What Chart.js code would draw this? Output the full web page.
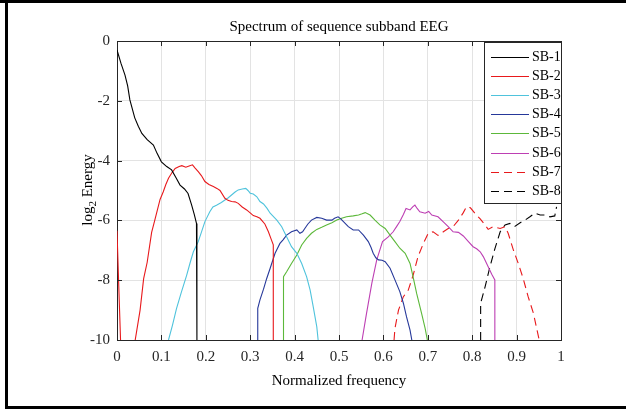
<!DOCTYPE html>
<html>
<head>
<meta charset="utf-8">
<script src="https://cdn.jsdelivr.net/npm/chart.js@4"></script>
<style>
  body{margin:0;background:#fff;}
  canvas{display:block;}
</style>
</head>
<body>
<canvas id="spec" width="626" height="411"></canvas>
<script>
// DATA  (normalized frequency, log2 energy)
const names = ["SB-1","SB-2","SB-3","SB-4","SB-5","SB-6","SB-7","SB-8"];
const xTicks = [0,0.1,0.2,0.3,0.4,0.5,0.6,0.7,0.8,0.9,1];
const yTicks = [0,-2,-4,-6,-8,-10];

const sb1 = [[0,-0.3],[0.009,-0.75],[0.018,-1.14],[0.024,-1.5],[0.029,-1.97],[0.04,-2.57],[0.048,-2.85],[0.056,-3.09],
  [0.068,-3.3],[0.082,-3.48],[0.09,-3.75],[0.1,-4.04],[0.112,-4.2],[0.123,-4.31],[0.132,-4.55],[0.142,-4.82],
  [0.152,-4.95],[0.16,-5.1],[0.168,-5.48],[0.174,-5.8],[0.179,-6.1],[0.18,-6.15],[0.18,-10]];
const sb2 = [[0,-6.35],[0.004,-8.2],[0.008,-10],[0.02,null],[0.041,-10],[0.052,-9.0],[0.06,-7.95],[0.068,-7.4],
  [0.078,-6.4],[0.085,-6.0],[0.097,-5.3],[0.104,-5.05],[0.11,-4.8],[0.116,-4.59],[0.124,-4.4],[0.131,-4.26],
  [0.14,-4.2],[0.146,-4.17],[0.155,-4.22],[0.164,-4.17],[0.17,-4.14],[0.176,-4.25],[0.183,-4.37],[0.19,-4.5],
  [0.198,-4.7],[0.207,-4.8],[0.217,-4.87],[0.225,-4.93],[0.232,-5.0],[0.243,-5.26],[0.25,-5.33],[0.258,-5.37],
  [0.266,-5.38],[0.273,-5.43],[0.282,-5.55],[0.292,-5.65],[0.3,-5.75],[0.307,-5.84],[0.315,-5.88],[0.322,-5.93],
  [0.333,-6.12],[0.341,-6.38],[0.348,-6.66],[0.352,-6.82],[0.352,-10]];
const sb3 = [[0.116,-10],[0.125,-9.5],[0.134,-8.95],[0.145,-8.4],[0.157,-7.83],[0.165,-7.4],[0.172,-7.05],[0.183,-6.71],
  [0.19,-6.4],[0.198,-6.04],[0.209,-5.71],[0.216,-5.55],[0.224,-5.49],[0.235,-5.4],[0.243,-5.32],[0.25,-5.25],
  [0.258,-5.15],[0.266,-5.05],[0.273,-4.98],[0.282,-4.95],[0.29,-4.93],[0.295,-5.0],[0.3,-5.09],[0.307,-5.12],
  [0.315,-5.21],[0.322,-5.37],[0.33,-5.45],[0.338,-5.6],[0.345,-5.76],[0.36,-5.99],[0.371,-6.21],[0.382,-6.55],
  [0.393,-6.88],[0.405,-7.1],[0.416,-7.44],[0.427,-7.88],[0.435,-8.33],[0.442,-8.89],[0.45,-9.56],[0.453,-10]];
const sb4 = [[0.317,-10],[0.317,-8.94],[0.322,-8.66],[0.33,-8.3],[0.337,-7.95],[0.345,-7.6],[0.356,-7.1],[0.367,-6.77],
  [0.374,-6.65],[0.382,-6.49],[0.393,-6.38],[0.405,-6.32],[0.412,-6.43],[0.418,-6.38],[0.423,-6.27],[0.43,-6.12],
  [0.438,-5.99],[0.45,-5.9],[0.461,-5.93],[0.472,-5.99],[0.484,-5.99],[0.49,-5.93],[0.498,-5.88],[0.504,-5.95],
  [0.51,-6.04],[0.521,-6.21],[0.532,-6.32],[0.544,-6.32],[0.555,-6.49],[0.566,-6.71],[0.572,-6.9],[0.577,-7.1],
  [0.583,-7.25],[0.589,-7.32],[0.597,-7.33],[0.604,-7.38],[0.615,-7.6],[0.626,-7.99],[0.637,-8.38],[0.645,-8.77],
  [0.652,-9.22],[0.66,-9.67],[0.664,-10]];
const sb5 = [[0.375,-10],[0.375,-7.88],[0.382,-7.72],[0.393,-7.44],[0.405,-7.16],[0.416,-6.82],[0.427,-6.6],[0.438,-6.43],
  [0.45,-6.3],[0.461,-6.23],[0.472,-6.15],[0.484,-6.08],[0.495,-5.99],[0.506,-5.93],[0.517,-5.88],[0.532,-5.85],
  [0.544,-5.82],[0.552,-5.78],[0.559,-5.74],[0.57,-5.82],[0.581,-5.99],[0.592,-6.15],[0.604,-6.27],[0.615,-6.49],
  [0.626,-6.71],[0.637,-6.93],[0.649,-7.1],[0.66,-7.44],[0.667,-7.9],[0.675,-8.45],[0.686,-9.11],[0.694,-9.61],[0.699,-10]];
const sb6 = [[0.552,-10],[0.562,-9.11],[0.574,-8.1],[0.585,-7.32],[0.598,-6.71],[0.611,-6.55],[0.622,-6.38],[0.63,-6.2],
  [0.637,-6.04],[0.645,-5.8],[0.651,-5.6],[0.66,-5.65],[0.666,-5.55],[0.671,-5.49],[0.676,-5.6],[0.682,-5.71],
  [0.694,-5.76],[0.702,-5.7],[0.709,-5.82],[0.723,-5.88],[0.735,-6.05],[0.746,-6.21],[0.757,-6.38],[0.769,-6.4],
  [0.78,-6.52],[0.791,-6.7],[0.802,-6.88],[0.81,-6.95],[0.818,-7.05],[0.825,-7.21],[0.836,-7.55],[0.844,-7.8],
  [0.851,-7.99],[0.851,-10]];
const sb7 = [[0.624,-10],[0.626,-9.61],[0.634,-9.0],[0.645,-8.55],[0.656,-8.33],[0.667,-7.83],[0.678,-7.21],[0.69,-6.77],
  [0.701,-6.43],[0.712,-6.38],[0.723,-6.5],[0.735,-6.38],[0.746,-6.27],[0.757,-6.21],[0.769,-5.99],[0.78,-5.74],
  [0.787,-5.54],[0.796,-5.58],[0.806,-5.76],[0.818,-5.95],[0.829,-6.15],[0.836,-6.3],[0.847,-6.21],[0.863,-6.27],
  [0.874,-6.21],[0.881,-6.43],[0.893,-7.0],[0.904,-7.45],[0.915,-7.95],[0.926,-8.55],[0.938,-9.11],[0.946,-9.67],[0.951,-10]];
const sb8 = [[0.819,-10],[0.819,-8.77],[0.829,-8.22],[0.84,-7.55],[0.851,-6.95],[0.863,-6.38],[0.874,-6.15],[0.885,-6.1],
  [0.896,-6.2],[0.908,-6.08],[0.919,-5.99],[0.93,-5.88],[0.941,-5.76],[0.953,-5.82],[0.964,-5.82],[0.975,-5.88],
  [0.986,-5.85],[0.99,-5.55]];

const series = [sb1,sb2,sb3,sb4,sb5,sb6,sb7,sb8];
const colors = ["#000000","#e8191c","#4fc3dc","#26389a","#5cb83a","#bd3fb3","#e8191c","#000000"];
const dashes = [[],[],[],[],[],[],[8,5],[8,5]];

const SERIF = "'Liberation Serif','Times New Roman',serif";

// extra drawing: box ticks, legend, titles, frame
const decor = {
  id:"decor",
  afterDraw(chart){
    const c = chart.ctx, a = chart.chartArea;
    const xs = chart.scales.x, ys = chart.scales.y;
    c.save();
    c.strokeStyle = "#262626";
    c.lineWidth = 1;
    c.beginPath();
    c.moveTo(a.left, a.top+0.5); c.lineTo(a.right+0.5, a.top+0.5);
    c.moveTo(a.right+0.5, a.top); c.lineTo(a.right+0.5, a.bottom);
    xTicks.forEach(t=>{
      let px = Math.round(xs.getPixelForValue(t))+0.5;
      c.moveTo(px, a.bottom); c.lineTo(px, a.bottom-5);
      c.moveTo(px, a.top); c.lineTo(px, a.top+5);
    });
    yTicks.forEach(t=>{
      let py = Math.round(ys.getPixelForValue(t))+0.5;
      c.moveTo(a.left, py); c.lineTo(a.left+5, py);
      c.moveTo(a.right, py); c.lineTo(a.right-5, py);
    });
    c.stroke();

    // legend
    const lx = 484, ly = 42, lw = 77, lh = 161;
    c.fillStyle = "#fff";
    c.fillRect(lx, ly, lw, lh);
    c.strokeStyle = "#262626";
    c.strokeRect(lx+0.5, ly+0.5, lw, lh);
    c.font = "14px " + SERIF;
    c.textBaseline = "middle";
    c.textAlign = "left";
    names.forEach((n,i)=>{
      let y = Math.round(57 + i*19.1)+0.5;
      c.strokeStyle = colors[i];
      c.setLineDash(dashes[i]);
      c.beginPath(); c.moveTo(491,y); c.lineTo(529,y); c.stroke();
      c.setLineDash([]);
      c.fillStyle = "#000";
      c.fillText(n, 532, y);
    });

    // title
    c.fillStyle = "#000";
    c.textAlign = "center";
    c.font = "15px " + SERIF;
    c.fillText("Spectrum of sequence subband EEG", 339, 27);

    // x title
    c.fillText("Normalized frequency", 339, 381);

    // y title with subscript
    c.save();
    c.translate(88, 190);
    c.rotate(-Math.PI/2);
    c.font = "15px " + SERIF;
    let w1 = c.measureText("log").width;
    c.font = "11px " + SERIF;
    let w2 = c.measureText("2").width;
    c.font = "15px " + SERIF;
    let w3 = c.measureText(" Energy").width;
    let x0 = -(w1+w2+w3)/2;
    c.textAlign = "left";
    c.fillText("log", x0, 0);
    c.font = "11px " + SERIF;
    c.fillText("2", x0+w1, 5);
    c.font = "15px " + SERIF;
    c.fillText(" Energy", x0+w1+w2, 0);
    c.restore();

    // outer frame
    c.fillStyle = "#000";
    c.fillRect(0, 0, 626, 3);
    c.fillRect(5, 0, 3, 409);
    c.fillRect(5, 406, 621, 3);
    c.restore();
  }
};

new Chart(document.getElementById("spec"), {
  type:"scatter",
  data:{
    datasets: series.map((s,i)=>({
      label:names[i],
      data:s.map(p=>({x:p[0], y:p[1]})),
      showLine:true,
      borderColor:colors[i],
      borderWidth:1.1,
      borderDash:dashes[i],
      pointRadius:0,
      fill:false,
      tension:0
    }))
  },
  options:{
    responsive:false,
    animation:false,
    devicePixelRatio:1,
    layout:{padding:{left:0,right:65,top:41,bottom:0}},
    plugins:{legend:{display:false},tooltip:{enabled:false},title:{display:false}},
    scales:{
      x:{
        type:"linear", min:0, max:1,
        afterFit:s=>{s.height = 71;},
        afterBuildTicks:s=>{s.ticks = xTicks.map(v=>({value:v}));},
        ticks:{color:"#262626", font:{family:SERIF,size:15}, padding:8, maxRotation:0,
          callback:v=>String(v)},
        grid:{color:"#e3e3e3", drawTicks:false},
        border:{color:"#262626"}
      },
      y:{
        min:-10, max:0,
        afterFit:s=>{s.width = 117;},
        afterBuildTicks:s=>{s.ticks = yTicks.map(v=>({value:v}));},
        ticks:{color:"#262626", font:{family:SERIF,size:15}, padding:7,
          callback:v=>String(v)},
        grid:{color:"#e3e3e3", drawTicks:false},
        border:{color:"#262626"}
      }
    }
  },
  plugins:[decor]
});
</script>
</body>
</html>
